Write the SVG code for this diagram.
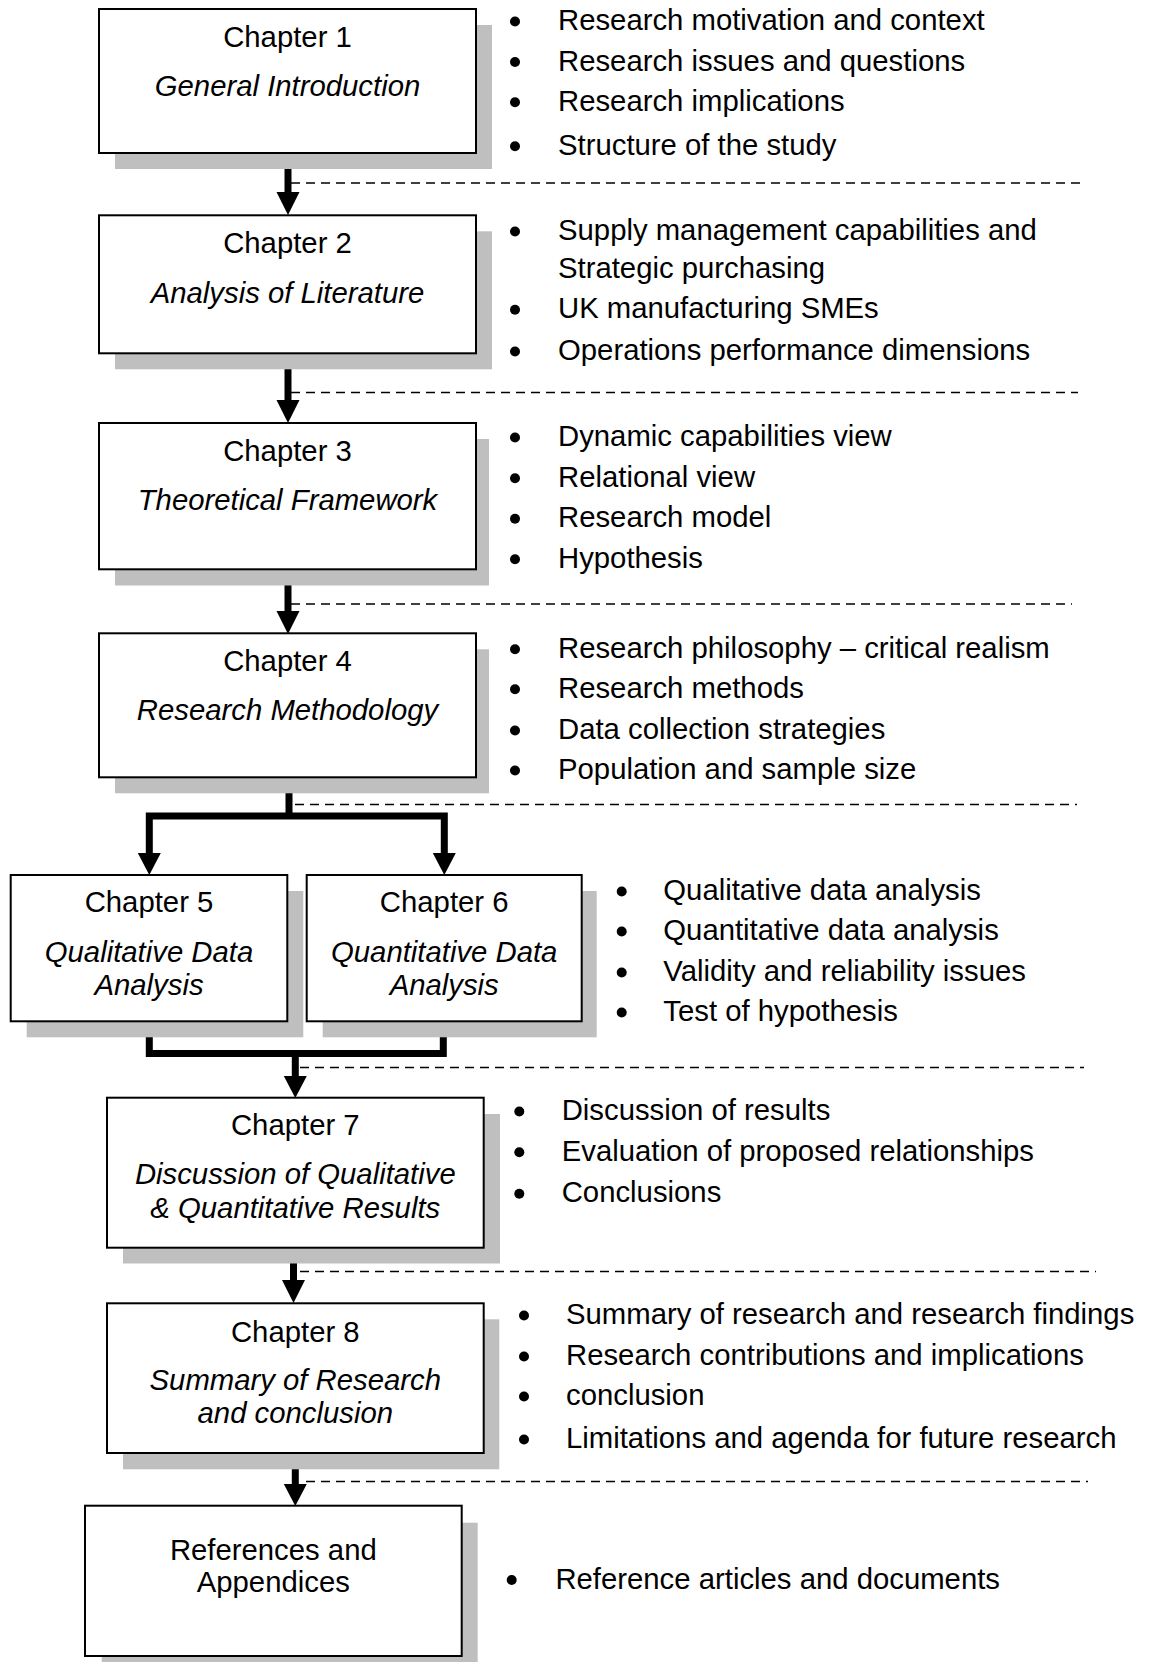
<svg xmlns="http://www.w3.org/2000/svg" width="1149" height="1662" viewBox="0 0 1149 1662">
<style>
  text { font-family: "Liberation Sans", Arial, sans-serif; font-size: 29.3px; fill: #000; }
  .c { text-anchor: middle; }
  .i { font-style: italic; }
  .box { fill: #fff; stroke: #000; stroke-width: 2; }
  .shadow { fill: #bfbfbf; stroke: none; }
  .bul { fill: #000; }
  .shaft { fill: none; stroke: #000; stroke-width: 7; stroke-linejoin: miter; stroke-linecap: butt; }
  .head { fill: #000; }
  .dash { fill: none; stroke: #000; stroke-width: 1.4; stroke-dasharray: 9 6; }
</style>
<rect width="1149" height="1662" fill="#fff"/>

<g id="connectors">
  <!-- 1 -> 2 -->
  <line class="shaft" x1="288" y1="153" x2="288" y2="193"/>
  <polygon class="head" points="276.5,192 299.5,192 288,215"/>
  <!-- 2 -> 3 -->
  <line class="shaft" x1="288" y1="354" x2="288" y2="401"/>
  <polygon class="head" points="276.5,400 299.5,400 288,423"/>
  <!-- 3 -> 4 -->
  <line class="shaft" x1="288" y1="570" x2="288" y2="612"/>
  <polygon class="head" points="276.5,611 299.5,611 288,634"/>
  <!-- 4 -> 5, 6 -->
  <polyline class="shaft" points="289,777 289,816"/>
  <polyline class="shaft" points="149.3,854 149.3,816 444.3,816 444.3,854"/>
  <polygon class="head" points="137.8,853 160.8,853 149.3,875"/>
  <polygon class="head" points="432.8,853 455.8,853 444.3,875"/>
  <!-- 5, 6 -> 7 -->
  <polyline class="shaft" points="149.3,1021 149.3,1053.5 443.3,1053.5 443.3,1021"/>
  <line class="shaft" x1="295.3" y1="1053.5" x2="295.3" y2="1077"/>
  <polygon class="head" points="283.8,1076 306.8,1076 295.3,1098"/>
  <!-- 7 -> 8 -->
  <line class="shaft" x1="293.5" y1="1248" x2="293.5" y2="1281"/>
  <polygon class="head" points="282,1280 305,1280 293.5,1303"/>
  <!-- 8 -> 9 -->
  <line class="shaft" x1="295.3" y1="1453" x2="295.3" y2="1485"/>
  <polygon class="head" points="283.8,1484 306.8,1484 295.3,1506"/>
</g>

<g id="separators">
  <line class="dash" x1="291" y1="183" x2="1082" y2="183"/>
  <line class="dash" x1="291" y1="392.5" x2="1078" y2="392.5"/>
  <line class="dash" x1="291" y1="604" x2="1072" y2="604"/>
  <line class="dash" x1="295" y1="804.5" x2="1077" y2="804.5"/>
  <line class="dash" x1="300" y1="1067.5" x2="1084" y2="1067.5"/>
  <line class="dash" x1="300" y1="1271.5" x2="1096" y2="1271.5"/>
  <line class="dash" x1="306" y1="1481.5" x2="1088" y2="1481.5"/>
</g>

<g id="ch1">
  <rect class="shadow" x="115" y="25" width="377" height="144"/>
  <rect class="box" x="99" y="9" width="377" height="144"/>
  <text class="c" x="287.5" y="46.5">Chapter 1</text>
  <text class="c i" x="287.5" y="96">General Introduction</text>
</g>

<g id="ch2">
  <rect class="shadow" x="115" y="231.3" width="377" height="138"/>
  <rect class="box" x="99" y="215.3" width="377" height="138"/>
  <text class="c" x="287.5" y="253">Chapter 2</text>
  <text class="c i" x="287.5" y="302.5">Analysis of Literature</text>
</g>

<g id="ch3">
  <rect class="shadow" x="115" y="439" width="374" height="146.5"/>
  <rect class="box" x="99" y="423" width="377" height="146.3"/>
  <text class="c" x="287.5" y="460.7">Chapter 3</text>
  <text class="c i" x="287.5" y="510">Theoretical Framework</text>
</g>

<g id="ch4">
  <rect class="shadow" x="115" y="649.3" width="374" height="144"/>
  <rect class="box" x="99" y="633.3" width="377" height="144"/>
  <text class="c" x="287.5" y="670.7">Chapter 4</text>
  <text class="c i" x="287.5" y="720">Research Methodology</text>
</g>

<g id="ch5">
  <rect class="shadow" x="26.7" y="891" width="276.6" height="146.3"/>
  <rect class="box" x="10.7" y="875" width="276.6" height="146.3"/>
  <text class="c" x="149" y="911.7">Chapter 5</text>
  <text class="c i" x="149" y="961.7">Qualitative Data</text>
  <text class="c i" x="149" y="995">Analysis</text>
</g>

<g id="ch6">
  <rect class="shadow" x="322.7" y="891" width="274" height="146.3"/>
  <rect class="box" x="306.7" y="875" width="275" height="146.3"/>
  <text class="c" x="444.2" y="911.7">Chapter 6</text>
  <text class="c i" x="444.2" y="961.7">Quantitative Data</text>
  <text class="c i" x="444.2" y="995">Analysis</text>
</g>

<g id="ch7">
  <rect class="shadow" x="123" y="1114" width="377" height="149.5"/>
  <rect class="box" x="107" y="1097.7" width="376.7" height="150"/>
  <text class="c" x="295.3" y="1135">Chapter 7</text>
  <text class="c i" x="295.3" y="1184.3">Discussion of Qualitative</text>
  <text class="c i" x="295.3" y="1218.3">&amp; Quantitative Results</text>
</g>

<g id="ch8">
  <rect class="shadow" x="123" y="1319.3" width="376.3" height="150"/>
  <rect class="box" x="107" y="1303.3" width="376.7" height="149.7"/>
  <text class="c" x="295.3" y="1341.7">Chapter 8</text>
  <text class="c i" x="295.3" y="1390">Summary of Research</text>
  <text class="c i" x="295.3" y="1423.3">and conclusion</text>
</g>

<g id="refs">
  <rect class="shadow" x="101.7" y="1522.7" width="376" height="145"/>
  <rect class="box" x="85" y="1505.7" width="376.7" height="150.3"/>
  <text class="c" x="273.3" y="1560">References and</text>
  <text class="c" x="273.3" y="1592.3">Appendices</text>
</g>

<g id="notes-ch1">
  <circle class="bul" cx="515" cy="21.5" r="5"/>
  <circle class="bul" cx="515" cy="62" r="5"/>
  <circle class="bul" cx="515" cy="102.3" r="5"/>
  <circle class="bul" cx="515" cy="146.3" r="5"/>
  <text x="558" y="30">Research motivation and context</text>
  <text x="558" y="70.7">Research issues and questions</text>
  <text x="558" y="111">Research implications</text>
  <text x="558" y="155">Structure of the study</text>
</g>

<g id="notes-ch2">
  <circle class="bul" cx="515" cy="231.5" r="5"/>
  <circle class="bul" cx="515" cy="309.8" r="5"/>
  <circle class="bul" cx="515" cy="351.5" r="5"/>
  <text x="558" y="240">Supply management capabilities and</text>
  <text x="558" y="278.3">Strategic purchasing</text>
  <text x="558" y="318.3">UK manufacturing SMEs</text>
  <text x="558" y="360">Operations performance dimensions</text>
</g>

<g id="notes-ch3">
  <circle class="bul" cx="515" cy="437.5" r="5"/>
  <circle class="bul" cx="515" cy="478.2" r="5"/>
  <circle class="bul" cx="515" cy="518.8" r="5"/>
  <circle class="bul" cx="515" cy="559.2" r="5"/>
  <text x="558" y="446">Dynamic capabilities view</text>
  <text x="558" y="486.7">Relational view</text>
  <text x="558" y="527.3">Research model</text>
  <text x="558" y="567.7">Hypothesis</text>
</g>

<g id="notes-ch4">
  <circle class="bul" cx="515" cy="649.2" r="5"/>
  <circle class="bul" cx="515" cy="689.2" r="5"/>
  <circle class="bul" cx="515" cy="730.5" r="5"/>
  <circle class="bul" cx="515" cy="770.5" r="5"/>
  <text x="558" y="657.7">Research philosophy – critical realism</text>
  <text x="558" y="697.7">Research methods</text>
  <text x="558" y="739">Data collection strategies</text>
  <text x="558" y="779">Population and sample size</text>
</g>

<g id="notes-ch5-6">
  <circle class="bul" cx="621.7" cy="891.5" r="5"/>
  <circle class="bul" cx="621.7" cy="931.5" r="5"/>
  <circle class="bul" cx="621.7" cy="972.5" r="5"/>
  <circle class="bul" cx="621.7" cy="1012.5" r="5"/>
  <text x="663.3" y="900">Qualitative data analysis</text>
  <text x="663.3" y="940">Quantitative data analysis</text>
  <text x="663.3" y="981">Validity and reliability issues</text>
  <text x="663.3" y="1021">Test of hypothesis</text>
</g>

<g id="notes-ch7">
  <circle class="bul" cx="519.3" cy="1111.5" r="5"/>
  <circle class="bul" cx="519.3" cy="1152.2" r="5"/>
  <circle class="bul" cx="519.3" cy="1193.8" r="5"/>
  <text x="561.7" y="1120">Discussion of results</text>
  <text x="561.7" y="1160.7">Evaluation of proposed relationships</text>
  <text x="561.7" y="1202.3">Conclusions</text>
</g>

<g id="notes-ch8">
  <circle class="bul" cx="524" cy="1315.5" r="5"/>
  <circle class="bul" cx="524" cy="1356.5" r="5"/>
  <circle class="bul" cx="524" cy="1396.5" r="5"/>
  <circle class="bul" cx="524" cy="1439.5" r="5"/>
  <text x="566" y="1324">Summary of research and research findings</text>
  <text x="566" y="1365">Research contributions and implications</text>
  <text x="566" y="1405">conclusion</text>
  <text x="566" y="1448">Limitations and agenda for future research</text>
</g>

<g id="notes-refs">
  <circle class="bul" cx="511.7" cy="1580" r="5"/>
  <text x="555.4" y="1589">Reference articles and documents</text>
</g>
</svg>
